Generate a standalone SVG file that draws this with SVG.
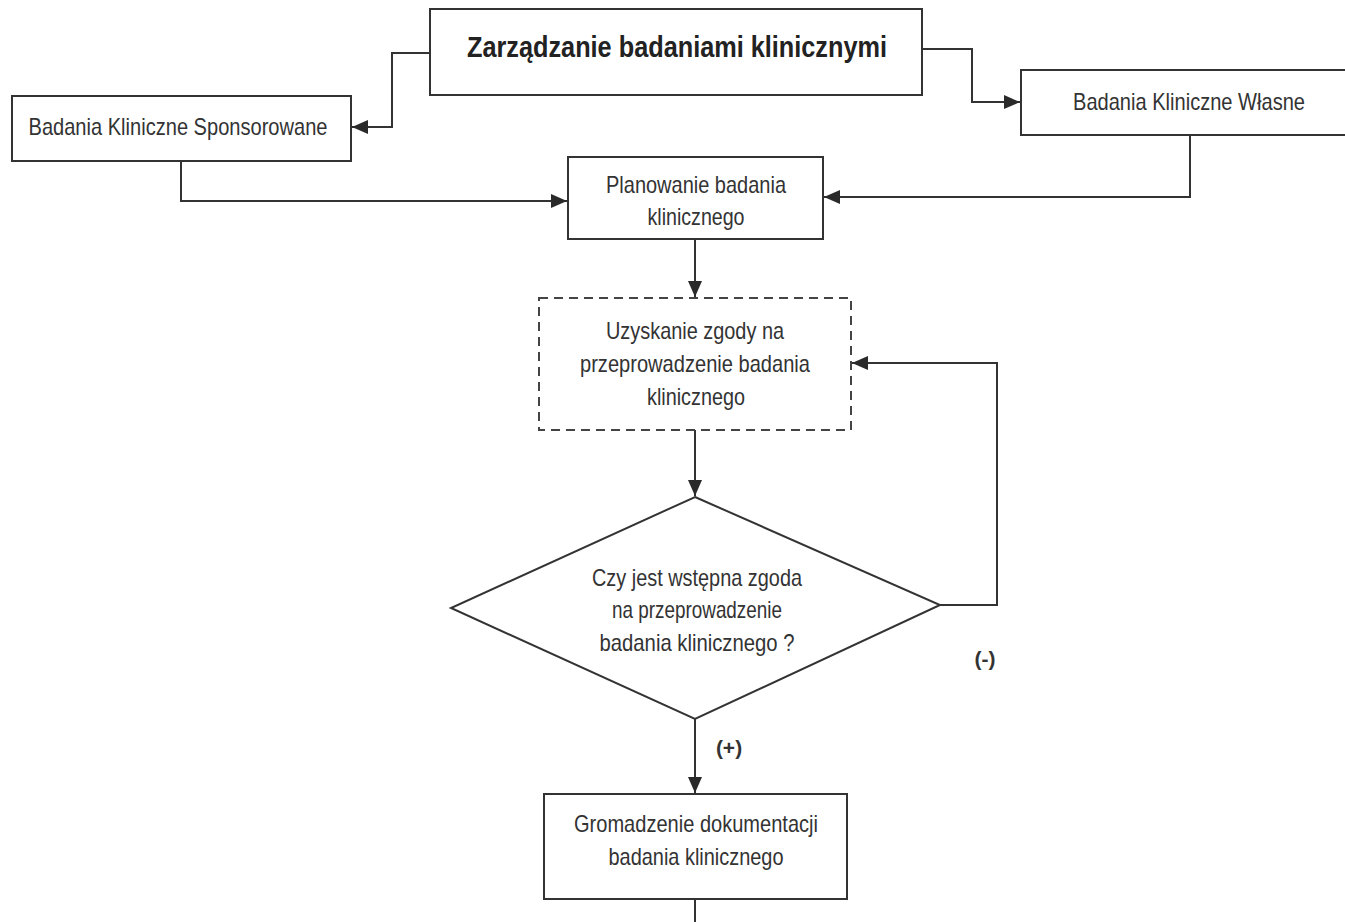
<svg xmlns="http://www.w3.org/2000/svg" width="1345" height="922" viewBox="0 0 1345 922">
<style>
.box{fill:#fff;stroke:#333;stroke-width:2}
.dash{fill:#fff;stroke:#444;stroke-width:2;stroke-dasharray:9 6}
.t{font-family:"Liberation Sans",Arial,sans-serif;font-size:24px;fill:#333;text-anchor:middle}
.tt{font-family:"Liberation Sans",Arial,sans-serif;font-size:30px;font-weight:bold;fill:#222;text-anchor:middle}
.lb{font-family:"Liberation Sans",Arial,sans-serif;font-size:21px;font-weight:bold;fill:#333;text-anchor:middle}
.c{fill:none;stroke:#333;stroke-width:2}
</style>
<defs>
<marker id="ah" viewBox="0 0 16 14" refX="16" refY="7" markerWidth="16" markerHeight="14" markerUnits="userSpaceOnUse" orient="auto">
<path d="M0,0 L16,7 L0,14 Z" fill="#2a2a2a"/>
</marker>
</defs>
<rect width="1345" height="922" fill="#fff"/>
<g id="connectors">
<path class="c" d="M430,53 H392 V127 H352" marker-end="url(#ah)"/>
<path class="c" d="M922,49 H972 V102 H1020" marker-end="url(#ah)"/>
<path class="c" d="M181,161 V201 H567" marker-end="url(#ah)"/>
<path class="c" d="M1190,135 V197 H824" marker-end="url(#ah)"/>
<path class="c" d="M695,239 V297" marker-end="url(#ah)"/>
<path class="c" d="M695,430 V496" marker-end="url(#ah)"/>
<path class="c" d="M940,605 H997 V363 H852" marker-end="url(#ah)"/>
<path class="c" d="M695,719 V793" marker-end="url(#ah)"/>
<path class="c" d="M695,899 V922"/>
<text class="lb" x="985" y="666">(-)</text>
<text class="lb" x="729" y="755">(+)</text>
</g>
<g id="title">
<rect class="box" x="430" y="9" width="492" height="86"/>
<text class="tt" x="677" y="57" textLength="420" lengthAdjust="spacingAndGlyphs">Zarządzanie badaniami klinicznymi</text>
</g>
<g id="sponsorowane">
<rect class="box" x="12" y="96" width="339" height="65"/>
<text class="t" x="178" y="135" textLength="299" lengthAdjust="spacingAndGlyphs">Badania Kliniczne Sponsorowane</text>
</g>
<g id="wlasne">
<path class="box" d="M1345,70 H1021 V135 H1345"/>
<text class="t" x="1189" y="110" textLength="232" lengthAdjust="spacingAndGlyphs">Badania Kliniczne Własne</text>
</g>
<g id="planowanie">
<rect class="box" x="568" y="157" width="255" height="82"/>
<text class="t" x="696" y="193" textLength="180" lengthAdjust="spacingAndGlyphs">Planowanie badania</text>
<text class="t" x="696" y="225" textLength="97" lengthAdjust="spacingAndGlyphs">klinicznego</text>
</g>
<g id="uzyskanie">
<rect class="dash" x="539" y="298" width="312" height="132"/>
<text class="t" x="695" y="339" textLength="178" lengthAdjust="spacingAndGlyphs">Uzyskanie zgody na</text>
<text class="t" x="695" y="372" textLength="230" lengthAdjust="spacingAndGlyphs">przeprowadzenie badania</text>
<text class="t" x="696" y="405" textLength="98" lengthAdjust="spacingAndGlyphs">klinicznego</text>
</g>
<g id="decyzja">
<polygon class="box" points="695,497 940,605 695,719 451,608"/>
<text class="t" x="697" y="586" textLength="210" lengthAdjust="spacingAndGlyphs">Czy jest wstępna zgoda</text>
<text class="t" x="697" y="618" textLength="170" lengthAdjust="spacingAndGlyphs">na przeprowadzenie</text>
<text class="t" x="697" y="651" textLength="195" lengthAdjust="spacingAndGlyphs">badania klinicznego ?</text>
</g>
<g id="gromadzenie">
<rect class="box" x="544" y="794" width="303" height="105"/>
<text class="t" x="696" y="832" textLength="244" lengthAdjust="spacingAndGlyphs">Gromadzenie dokumentacji</text>
<text class="t" x="696" y="865" textLength="175" lengthAdjust="spacingAndGlyphs">badania klinicznego</text>
</g>
</svg>
